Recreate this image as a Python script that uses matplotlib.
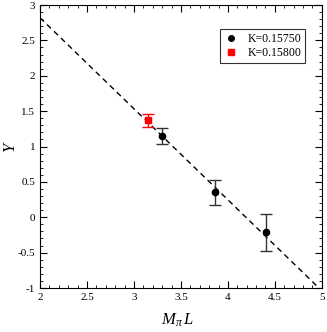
import numpy as np
import matplotlib
matplotlib.use('Agg')
import matplotlib.pyplot as plt
from matplotlib.ticker import MultipleLocator
from matplotlib.lines import Line2D

plt.rcParams['font.family'] = ['Liberation Serif', 'DejaVu Serif']
plt.rcParams['mathtext.fontset'] = 'custom'
plt.rcParams['mathtext.it'] = 'Liberation Serif:italic'
plt.rcParams['mathtext.rm'] = 'Liberation Serif'

# K=0.15750 points
mpil_a = [3.30, 3.86, 4.41]
y_a = [1.15, 0.35, -0.21]
err_a = [0.11, 0.17, 0.26]

# K=0.15800 point
mpil_b = [3.15]
y_b = [1.37]
err_b = [0.09]

# linear fit
fit_x = [2.0, 5.0]
fit_y = [2.82, -1.04]

fig = plt.figure(figsize=(3.27, 3.32), dpi=100)
ax = fig.add_axes([0.1223, 0.1325, 0.862, 0.8524])

ax.plot(fit_x, fit_y, '--', color='black', lw=1.0, dashes=(4, 3))

ax.errorbar(mpil_a, y_a, yerr=err_a, fmt='o', color='black', ecolor='#333333',
            ms=4.5, capsize=4, elinewidth=1.0, capthick=1.0)
ax.plot(mpil_a, y_a, '.', color='white', ms=1.5)
ax.errorbar(mpil_b, y_b, yerr=err_b, fmt='s', color='red', ecolor='red',
            ms=4.5, capsize=4, elinewidth=1.0, capthick=1.0)
ax.plot(mpil_b, y_b, '.', color='white', ms=1.5)

ax.set_xlim(2, 5)
ax.set_ylim(-1, 3)
ax.xaxis.set_major_locator(MultipleLocator(0.5))
ax.xaxis.set_minor_locator(MultipleLocator(0.1))
ax.yaxis.set_major_locator(MultipleLocator(0.5))
ax.yaxis.set_minor_locator(MultipleLocator(0.1))
ax.tick_params(which='both', direction='in', top=True, right=True, labelsize=8)
ax.tick_params(which='major', length=5)
ax.tick_params(which='minor', length=2.5)
ax.xaxis.set_major_formatter(plt.FuncFormatter(lambda v, p: f'{v:g}'))
ax.yaxis.set_major_formatter(plt.FuncFormatter(lambda v, p: f'{v:g}'))

ax.set_xlabel(r'$M_{\pi}\,L$', fontsize=12)
ax.set_ylabel(r'$Y$', fontsize=12)
ax.xaxis.set_label_coords(0.486, -0.085)
ax.yaxis.set_label_coords(-0.075, 0.5)

handles = [Line2D([], [], marker='o', color='black', ls='none', ms=4),
           Line2D([], [], marker='s', color='red', ls='none', ms=4)]
leg = ax.legend(handles, ['K=0.15750', 'K=0.15800'], loc='upper right',
                fontsize=8.5, frameon=True, fancybox=False, edgecolor='black',
                handlelength=1.2, borderpad=0.3, labelspacing=0.2,
                bbox_to_anchor=(0.96, 0.935))
leg.get_frame().set_linewidth(0.8)

fig.savefig('out.png', dpi=100)
